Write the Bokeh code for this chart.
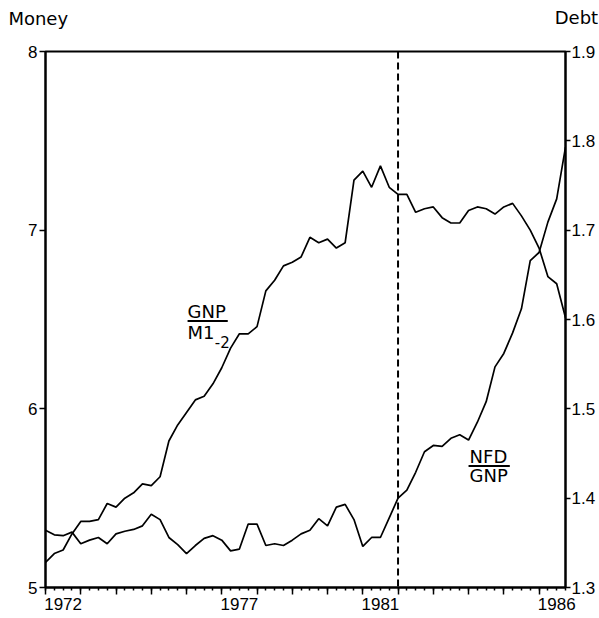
from bokeh.plotting import figure
from bokeh.models import Range1d, LinearAxis, FixedTicker, Span, Label
from bokeh.embed import file_html
from bokeh.resources import INLINE

# quarterly observations 1972Q1 .. 1986Q4
quarters = [1972 + i * 0.25 for i in range(60)]

# GNP / M1(-2)  (left axis, "Money")
velocity = [5.14, 5.19, 5.21, 5.30, 5.37, 5.37, 5.38, 5.47, 5.45, 5.50,
            5.53, 5.58, 5.57, 5.62, 5.82, 5.91, 5.98, 6.05, 6.07, 6.14,
            6.23, 6.34, 6.42, 6.42, 6.46, 6.66, 6.72, 6.80, 6.82, 6.85,
            6.96, 6.93, 6.95, 6.90, 6.93, 7.28, 7.33, 7.24, 7.36, 7.24,
            7.20, 7.20, 7.10, 7.12, 7.13, 7.07, 7.04, 7.04, 7.11, 7.13,
            7.12, 7.09, 7.13, 7.15, 7.08, 7.00, 6.90, 6.74, 6.70, 6.51]

# NFD / GNP  (right axis, "Debt")
debt = [1.364, 1.359, 1.358, 1.362, 1.349, 1.353, 1.356, 1.349, 1.360, 1.363,
        1.365, 1.369, 1.382, 1.376, 1.356, 1.348, 1.338, 1.347, 1.355, 1.358,
        1.353, 1.341, 1.343, 1.371, 1.371, 1.347, 1.349, 1.347, 1.353, 1.360,
        1.364, 1.377, 1.369, 1.390, 1.393, 1.376, 1.346, 1.356, 1.356, 1.378,
        1.400, 1.409, 1.429, 1.452, 1.459, 1.458, 1.467, 1.471, 1.465, 1.485,
        1.508, 1.547, 1.562, 1.585, 1.612, 1.666, 1.675, 1.709, 1.735, 1.793]

money_ticks = [5, 6, 7, 8]
debt_ticks = [1.3, 1.4, 1.5, 1.6, 1.7, 1.8, 1.9]
year_ticks = list(range(1972, 1987))
labelled_years = [1972, 1977, 1981, 1986]
break_year = 1982

TICK_FONT = "Liberation Sans"
TEXT_FONT = "DejaVu Sans"

p = figure(frame_width=520, frame_height=536,
           x_range=Range1d(1972, 1986.75), y_range=Range1d(5, 8),
           output_backend="svg", toolbar_location=None,
           min_border_left=45, min_border_top=51,
           min_border_right=33, min_border_bottom=30)
p.extra_y_ranges = {"debt": Range1d(1.3, 1.9)}
p.xgrid.visible = False
p.ygrid.visible = False
p.outline_line_color = "black"
p.outline_line_width = 2
p.background_fill_color = "white"
p.border_fill_color = "white"

# bottom axis: year ticks + quarterly minor ticks, no labels
xa = p.xaxis[0]
xa.ticker = FixedTicker(ticks=year_ticks, minor_ticks=quarters)
xa.major_label_overrides = {y: "" for y in year_ticks}
xa.major_label_text_font_size = "0px"
xa.major_label_standoff = 0
xa.axis_line_width = 2
xa.major_tick_out = 7
xa.major_tick_in = 0
xa.minor_tick_out = 3
xa.minor_tick_in = 0
xa.major_tick_line_width = 1.5
xa.minor_tick_line_width = 1.5

# year labels centred inside each labelled year
label_pos = [y + 0.5 for y in labelled_years]
xl = LinearAxis(ticker=FixedTicker(ticks=label_pos, minor_ticks=[]),
                major_label_overrides={y + 0.5: str(y) for y in labelled_years},
                axis_line_color=None, major_tick_line_color=None,
                minor_tick_line_color=None,
                major_tick_out=0, major_tick_in=0, minor_tick_out=0, minor_tick_in=0,
                major_label_standoff=3,
                major_label_text_font=TICK_FONT,
                major_label_text_font_size="17px",
                major_label_text_color="black")
p.add_layout(xl, "below")

ya = p.yaxis[0]
ya.ticker = FixedTicker(ticks=money_ticks, minor_ticks=[])
ya.axis_line_width = 2
ya.major_tick_out = 6
ya.major_tick_in = 0
ya.major_tick_line_width = 1.5
ya.minor_tick_line_color = None
ya.major_label_standoff = 2
ya.major_label_text_font = TICK_FONT
ya.major_label_text_font_size = "17px"
ya.major_label_text_color = "black"

yr = LinearAxis(y_range_name="debt", ticker=FixedTicker(ticks=debt_ticks, minor_ticks=[]),
                axis_line_width=2, major_tick_out=5, major_tick_in=0,
                major_tick_line_width=1.5, minor_tick_line_color=None,
                major_label_standoff=1, major_label_text_font=TICK_FONT,
                major_label_text_font_size="17px", major_label_text_color="black")
p.add_layout(yr, "right")

p.line(quarters, velocity, line_color="black", line_width=1.7)
p.line(quarters, debt, y_range_name="debt", line_color="black", line_width=1.7)

p.add_layout(Span(location=break_year, dimension="height", line_color="black",
                  line_width=2, line_dash="7 4"))

def mk(x, y, s, size="18px"):
    return Label(x=x, y=y, text=s, text_font=TEXT_FONT, text_font_size=size,
                 text_color="black", text_baseline="middle", text_align="left")

# fraction labels
p.add_layout(mk(1976.03, 6.542, "GNP"))
p.add_layout(mk(1976.03, 6.430, "M1"))
p.add_layout(mk(1976.80, 6.376, "-2", "15px"))
p.segment(x0=[1976.03], y0=[6.491], x1=[1977.17], y1=[6.491], line_color="black", line_width=2)

p.add_layout(mk(1984.03, 5.736, "NFD"))
p.add_layout(mk(1984.03, 5.625, "GNP"))
p.segment(x0=[1984.0], y0=[5.680], x1=[1985.17], y1=[5.680], line_color="black", line_width=2)

# axis titles, above the frame
p.add_layout(mk(1970.948, 8.182, "Money"), "above")
p.add_layout(mk(1986.444, 8.192, "Debt"), "above")

open("out.html", "w").write(file_html(p, INLINE))
